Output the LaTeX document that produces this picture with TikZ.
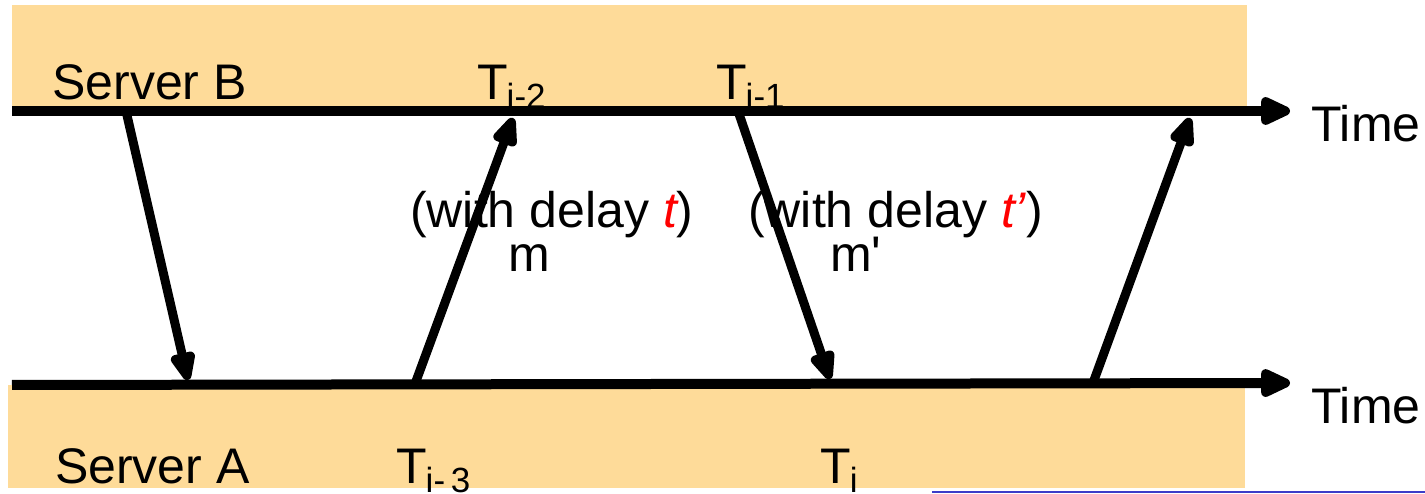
\documentclass[tikz,border=0pt]{standalone}
\usepackage{fontspec}
\setmainfont{Liberation Sans}
\newfontfamily\rawsans{Liberation Sans}
\usetikzlibrary{arrows.meta}
\definecolor{band}{RGB}{254,219,153}
\definecolor{thinblue}{RGB}{60,60,200}
\newcommand{\Tsub}[1]{T\kern-1pt{\fontsize{35}{35}\selectfont\raisebox{-9pt}{#1}}}
\tikzset{
  lbl/.style={inner sep=0pt, anchor=base west, font=\fontsize{50}{50}\selectfont},
  timeline/.style={line width=10pt, -{Triangle[length=36pt,width=30pt,round]}},
  msg/.style={line width=9pt, -{Triangle[length=36pt,width=26pt,round]}},
}
\begin{document}
\begin{tikzpicture}[x=1pt,y=-1pt]
\useasboundingbox (0,0) rectangle (1425,494);
% bands
\fill[band] (12,5) rectangle (1247,111);
\fill[band] (8,385) rectangle (1245,488);
\draw[thinblue, line width=1.2pt] (932,492) -- (1425,492);
% axis coordinates
\coordinate (bstart) at (12,111);
\coordinate (bend) at (1290,111);
\coordinate (astart) at (12,385);
\coordinate (aend) at (1290,383);
\draw[timeline] (bstart) -- (bend);
\draw[timeline] (astart) -- (aend);
% message endpoints
\coordinate (m1s) at (126,111);
\coordinate (m1e) at (188,380);
\coordinate (m2s) at (415,384);
\coordinate (m2e) at (513,118);
\coordinate (m3s) at (738,111);
\coordinate (m3e) at (830,379);
\coordinate (m4s) at (1093,383);
\coordinate (m4e) at (1190,118);
\draw[msg] (m1s) -- (m1e);
\draw[msg] (m2s) -- (m2e);
\draw[msg] (m3s) -- (m3e);
\draw[msg] (m4s) -- (m4e);
% labels
\node[lbl] (srvb) at (52,100) {Server B};
\node[lbl] (srva) at (55,483) {Server A};
\node[lbl] (timeb) at (1311,142) {Time};
\node[lbl] (timea) at (1311,423) {Time};
\node[lbl] (ti2) at (477,100) {\Tsub{i-2}};
\node[lbl] (ti1) at (716,100) {\Tsub{i-1}};
\node[lbl] (ti3) at (396,483) {\Tsub{i-\,3}};
\node[lbl] (ti) at (820,483) {\Tsub{i}};
\node[lbl] (d1) at (410,228) {(with delay {\color{red}\itshape t})};
\node[lbl] (d2) at (748,228) {(with delay {\color{red}\itshape t’})};
\node[lbl] (mm) at (508,272) {m};
\node[lbl] (mp) at (830,272) {\rawsans m'};
\end{tikzpicture}
\end{document}
